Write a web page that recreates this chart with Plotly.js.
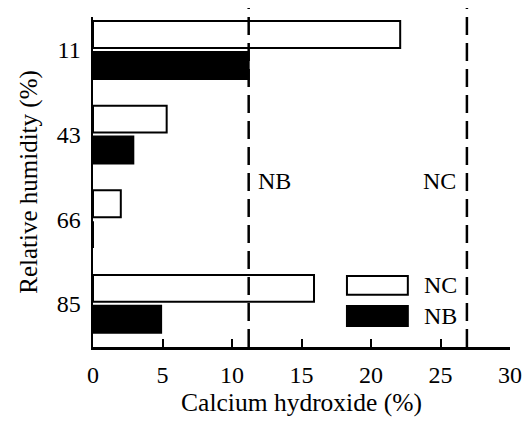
<!DOCTYPE html>
<html>
<head>
<meta charset="utf-8">
<script src="https://cdn.plot.ly/plotly-3.0.1.min.js"></script>
<style>html,body{margin:0;padding:0;background:#fff;}#chart{width:530px;height:425px;}</style>
</head>
<body>
<div id="chart"></div>
<script>
// Data
const humidity = ['11', '43', '66', '85'];
const ncValues = [22.1, 5.3, 2.0, 15.9];
const nbValues = [11.2, 2.9, 0, 4.9];
const thresholdNames = ['NB', 'NC'];
const thresholdValues = [11.2, 26.9];
const xTicks = [0, 5, 10, 15, 20, 25, 30];

const FONT = '"Liberation Serif", "Times New Roman", serif';

const traces = [
  {type: 'bar', orientation: 'h', name: 'NC', y: humidity, x: ncValues,
   marker: {color: '#ffffff', line: {color: '#000000', width: 2}}},
  {type: 'bar', orientation: 'h', name: 'NB', y: humidity, x: nbValues,
   marker: {color: '#000000', line: {color: '#000000', width: 2}}}
];

const shapes = [];
const annotations = [];
thresholdValues.forEach((v, i) => {
  shapes.push({type: 'line', xref: 'x', yref: 'paper', x0: v, x1: v, y0: 0, y1: 1.027,
    line: {color: '#000000', width: 2.5, dash: '18px,8px'}});
  const left = thresholdNames[i] === 'NB';
  annotations.push({xref: 'x', yref: 'paper', x: v, y: 0.503, text: thresholdNames[i],
    showarrow: false, xanchor: left ? 'left' : 'right', yanchor: 'middle',
    xshift: left ? 7 : -9, font: {family: FONT, size: 24, color: '#000'}});
});

// manual legend (wide boxes like the original)
const legendItems = [{name: 'NC', fill: '#ffffff', y0: 0.158, y1: 0.215},
                     {name: 'NB', fill: '#000000', y0: 0.064, y1: 0.124}];
legendItems.forEach(it => {
  shapes.push({type: 'rect', xref: 'paper', yref: 'paper', x0: 0.609, x1: 0.755, y0: it.y0, y1: it.y1,
    fillcolor: it.fill, line: {color: '#000', width: 2}});
  annotations.push({xref: 'paper', yref: 'paper', x: 0.788, y: (it.y0 + it.y1) / 2, text: it.name,
    showarrow: false, xanchor: 'left', yanchor: 'middle', font: {family: FONT, size: 24, color: '#000'}});
});

const layout = {
  width: 530, height: 425,
  margin: {l: 93, r: 20, t: 17, b: 78},
  paper_bgcolor: '#fff', plot_bgcolor: '#fff',
  font: {family: FONT, size: 24, color: '#000'},
  showlegend: false,
  barmode: 'group', bargap: 0.27, bargroupgap: 0.13,
  xaxis: {range: [0, 30], tickvals: xTicks, ticktext: xTicks.map(String),
    ticks: 'inside', ticklen: 8, tickwidth: 2, tickcolor: '#000',
    tickfont: {family: FONT, size: 24},
    showline: true, linewidth: 2.5, linecolor: '#000', showgrid: false, zeroline: false,
    ticklabelstandoff: 5, automargin: false,
    title: {text: 'Calcium hydroxide (%)', font: {family: FONT, size: 25.5}, standoff: 4}},
  yaxis: {type: 'category', categoryorder: 'array', categoryarray: humidity,
    range: [3.51, -0.39], ticks: '', showline: true, linewidth: 2.5, linecolor: '#000',
    tickfont: {family: FONT, size: 24},
    showgrid: false, zeroline: false, ticklabelstandoff: 5, automargin: false,
    title: {text: 'Relative humidity (%)', font: {family: FONT, size: 25}, standoff: 12}},
  shapes: shapes, annotations: annotations
};

Plotly.newPlot('chart', traces, layout, {displayModeBar: false, staticPlot: true});
</script>
</body>
</html>
